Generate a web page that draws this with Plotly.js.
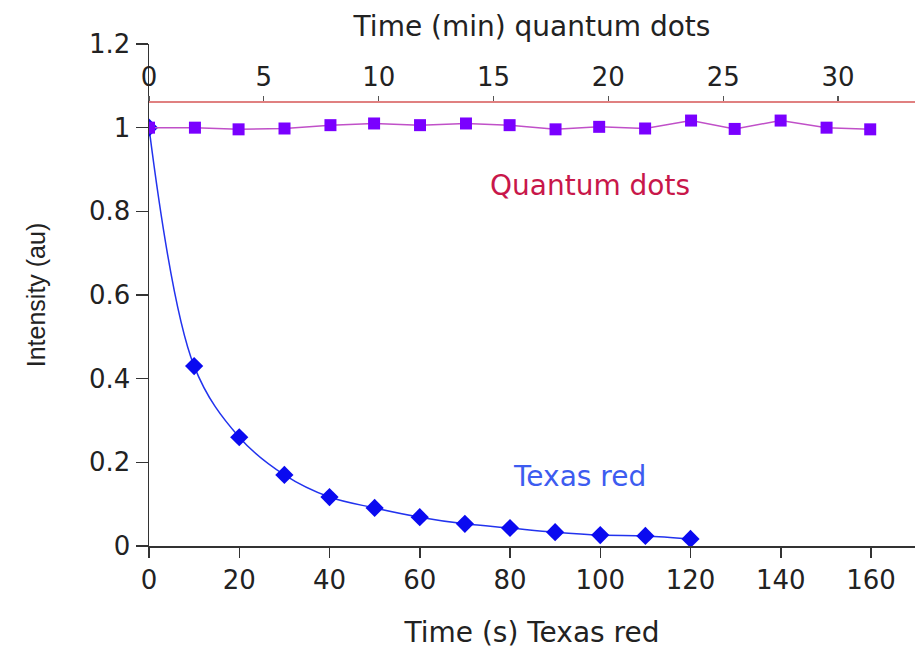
<!DOCTYPE html>
<html>
<head>
<meta charset="utf-8">
<script src="https://cdn.plot.ly/plotly-3.0.1.min.js"></script>
<style>html,body{margin:0;padding:0;background:#fff;}#chart{width:915px;height:650px;}</style>
</head>
<body>
<div id="chart"></div>
<script>
// Texas red: time in seconds (bottom axis)
const texasTime = [0, 10, 20, 30, 40, 50, 60, 70, 80, 90, 100, 110, 120];
const texasIntensity = [1.0, 0.43, 0.26, 0.17, 0.117, 0.091, 0.069, 0.053, 0.043, 0.033, 0.026, 0.024, 0.017];

// Quantum dots: time in minutes (top axis)
const qdTime = [0, 2.0, 3.9, 5.9, 7.9, 9.8, 11.8, 13.8, 15.7, 17.7, 19.6, 21.6, 23.6, 25.5, 27.5, 29.5, 31.4];
const qdIntensity = [1.0, 1.0, 0.996, 0.998, 1.006, 1.010, 1.006, 1.010, 1.006, 0.996, 1.002, 0.998, 1.017, 0.997, 1.017, 1.0, 0.996];

const yTicks = [0, 0.2, 0.4, 0.6, 0.8, 1, 1.2];
const yTickLabels = ['0', '0.2', '0.4', '0.6', '0.8', '1', '1.2'];
const xTicks = [0, 20, 40, 60, 80, 100, 120, 140, 160];
const x2Ticks = [0, 5, 10, 15, 20, 25, 30];

const FONT = 'DejaVu Sans, Liberation Sans, Arial, sans-serif';
const TICK = 26;
const TITLE = 28;

const traces = [
  {
    x: qdTime, y: qdIntensity, xaxis: 'x2', yaxis: 'y',
    mode: 'lines+markers', name: 'Quantum dots',
    line: {color: '#c050c8', width: 1.5},
    marker: {symbol: 'square', size: 12, color: '#7a00ff'}
  },
  {
    x: texasTime, y: texasIntensity, xaxis: 'x', yaxis: 'y',
    mode: 'lines+markers', name: 'Texas red',
    line: {color: '#2233ee', width: 1.5, shape: 'spline', smoothing: 1},
    marker: {symbol: 'diamond', size: 14, color: '#0a0af0'}
  }
];

const layout = {
  width: 915, height: 650,
  margin: {l: 149, r: 0, t: 44, b: 104, pad: 0},
  paper_bgcolor: '#ffffff', plot_bgcolor: '#ffffff',
  showlegend: false,
  font: {family: FONT, size: TICK, color: '#222'},
  xaxis: {
    range: [0, 169.75], tickvals: xTicks, ticktext: xTicks.map(String),
    showgrid: false, zeroline: false, showline: true, linecolor: '#333', linewidth: 1.5,
    ticks: 'outside', ticklen: 10, tickwidth: 1.5, tickcolor: '#333',
    tickfont: {family: FONT, size: TICK, color: '#222'},
    title: {text: 'Time (s) Texas red', font: {family: FONT, size: TITLE, color: '#222'}, standoff: 28},
    anchor: 'y'
  },
  xaxis2: {
    range: [0, 33.35], tickvals: x2Ticks, ticktext: x2Ticks.map(String),
    overlaying: 'x', side: 'top', anchor: 'free', position: 0.8845,
    showgrid: false, zeroline: false, showline: true, linecolor: '#e08080', linewidth: 2.5,
    ticks: 'outside', ticklen: 5, tickwidth: 1.2, tickcolor: '#555',
    tickfont: {family: FONT, size: TICK, color: '#222'},
    title: {text: 'Time (min) quantum dots', font: {family: FONT, size: TITLE, color: '#222'}, standoff: 16}
  },
  yaxis: {
    range: [0, 1.2], tickvals: yTicks, ticktext: yTickLabels,
    showgrid: false, zeroline: false, showline: true, linecolor: '#333', linewidth: 1.5,
    ticks: 'outside', ticklen: 12, tickwidth: 1.5, tickcolor: '#333',
    tickfont: {family: FONT, size: TICK, color: '#222'},
    title: {text: 'Intensity (au)', font: {family: 'Liberation Sans, Arial, sans-serif', size: 25, color: '#222'}, standoff: 36},
    anchor: 'x'
  },
  annotations: [
    {x: 97.7, y: 0.861, xref: 'x', yref: 'y', text: 'Quantum dots', showarrow: false,
     font: {family: FONT, size: TITLE, color: '#c8174a'}},
    {x: 95.5, y: 0.165, xref: 'x', yref: 'y', text: 'Texas red', showarrow: false,
     font: {family: FONT, size: TITLE, color: '#3d5cf0'}}
  ]
};

Plotly.newPlot('chart', traces, layout, {displayModeBar: false, staticPlot: true});
</script>
</body>
</html>
